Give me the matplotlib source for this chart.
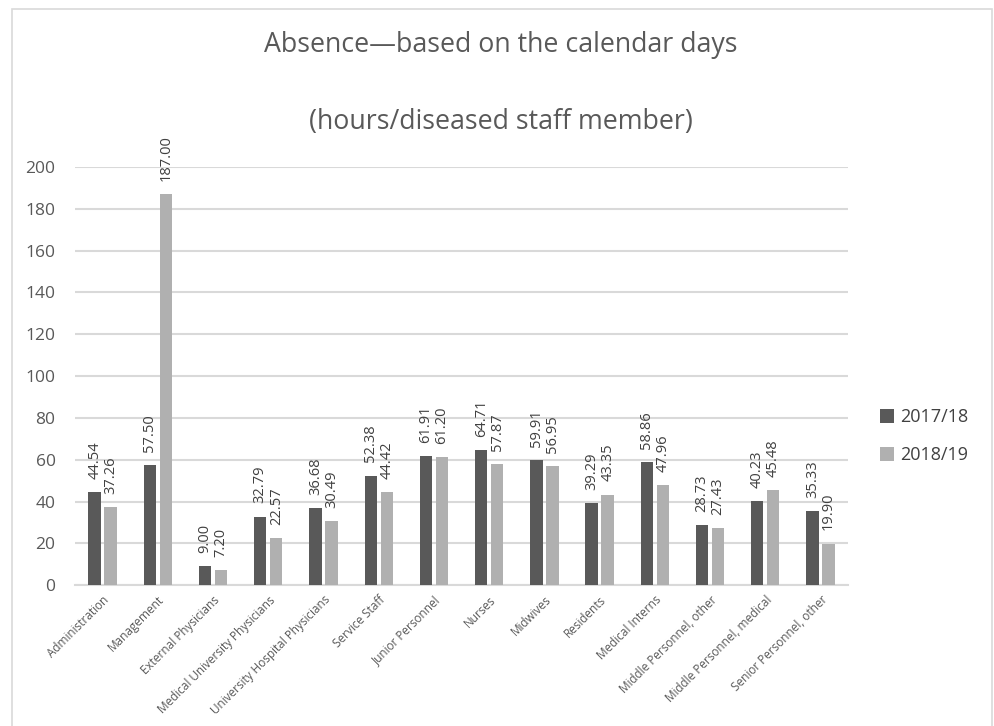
import numpy as np
import matplotlib
matplotlib.use('Agg')
import matplotlib.pyplot as plt
from matplotlib.patches import Rectangle

# data
categories = ['Administration', 'Management', 'External Physicians',
              'Medical University Physicians', 'University Hospital Physicians',
              'Service Staff', 'Junior Personnel', 'Nurses', 'Midwives',
              'Residents', 'Medical Interns', 'Middle Personnel, other',
              'Middle Personnel, medical', 'Senior Personnel, other']
y2017 = [44.54, 57.50, 9.00, 32.79, 36.68, 52.38, 61.91, 64.71, 59.91,
         39.29, 58.86, 28.73, 40.23, 35.33]
y2018 = [37.26, 187.00, 7.20, 22.57, 30.49, 44.42, 61.20, 57.87, 56.95,
         43.35, 47.96, 27.43, 45.48, 19.90]
series_names = ['2017/18', '2018/19']
yticks = [0, 20, 40, 60, 80, 100, 120, 140, 160, 180, 200]

plt.rcParams['font.family'] = ['Open Sans', 'DejaVu Sans']

fig = plt.figure(figsize=(9.95, 7.26), dpi=100)
ax = fig.add_axes([0.0754, 0.194, 0.777, 0.576])

# outer chart border
fig.patches.append(Rectangle((12/995, -0.01), (992-12)/995, (726-9)/726 + 0.01,
                             transform=fig.transFigure, fill=False,
                             edgecolor='#d9d9d9', linewidth=1.2))

x = np.arange(len(categories))
w = 0.223
off = 0.145
dark = '#595959'
light = '#b0b0b0'
b1 = ax.bar(x - off, y2017, w, color=dark, label=series_names[0], zorder=3)
b2 = ax.bar(x + off, y2018, w, color=light, label=series_names[1], zorder=3)

for bars in (b1, b2):
    for rect in bars:
        h = rect.get_height()
        ax.annotate('%.2f' % h, (rect.get_x() + rect.get_width()/2, h),
                    xytext=(0, 9.5), textcoords='offset points',
                    rotation=90, ha='center', va='bottom',
                    fontsize=10.5, color='#404040')

ax.set_xlim(-0.5, len(categories) - 0.5)
ax.set_ylim(0, 200)
ax.set_yticks(yticks)
ax.yaxis.grid(True, color='#d9d9d9', linewidth=1.5, zorder=0)
ax.set_axisbelow(True)
for s in ['top', 'right', 'left']:
    ax.spines[s].set_visible(False)
ax.spines['bottom'].set_color('#d9d9d9')
ax.spines['bottom'].set_linewidth(1.5)
ax.tick_params(length=0)
ax.tick_params(axis='y', labelsize=12.5, labelcolor='#595959', pad=14)
ax.set_xticks(x)
ax.set_xticklabels(categories, rotation=45, ha='right', rotation_mode='anchor',
                   fontsize=8.5, color='#595959')
ax.tick_params(axis='x', pad=6)

fig.text(0.503, 0.938, 'Absence\u2014based on the calendar days', ha='center',
         va='center', fontsize=19.3, color='#595959')
fig.text(0.503, 0.832, '(hours/diseased staff member)', ha='center',
         va='center', fontsize=19.3, color='#595959')

ax.legend(loc='center left', bbox_to_anchor=(1.02, 0.356), frameon=False,
          fontsize=13, labelcolor='#404040', handlelength=0.8,
          handleheight=0.8, handletextpad=0.3, labelspacing=1.1)

fig.savefig('out.png', dpi=100, facecolor='white')
